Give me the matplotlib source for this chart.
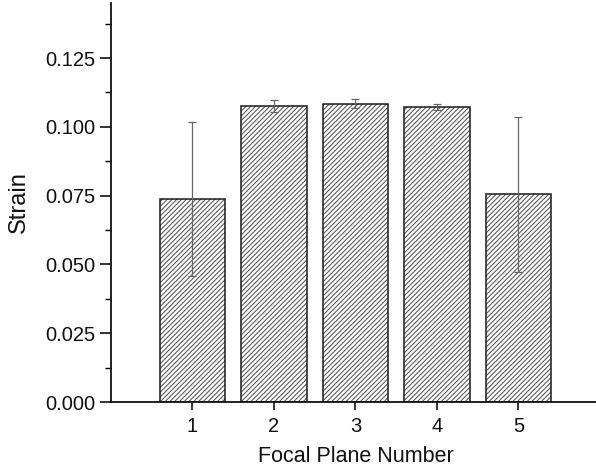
import matplotlib
matplotlib.use("Agg")
import matplotlib.pyplot as plt
from matplotlib.ticker import MultipleLocator, FormatStrFormatter

planes = [1, 2, 3, 4, 5]
strain = [0.0739, 0.1077, 0.1084, 0.1072, 0.0755]
strain_err = [0.0280, 0.0022, 0.0017, 0.0012, 0.0281]
xtick_labels = ["1", "2", "3", "4", "5"]

plt.rcParams['font.family'] = ['Liberation Sans', 'DejaVu Sans']
plt.rcParams['hatch.linewidth'] = 0.75

fig = plt.figure(figsize=(5.96, 4.67), dpi=100)
ax = fig.add_axes([111/596, 65/467, 489/596, 399/467])

# hatch layer (gray lines), then black outline
ax.bar(planes, strain, width=0.8, facecolor='white', edgecolor='#555555',
       linewidth=0, hatch='///////', zorder=2)
ax.bar(planes, strain, width=0.8, facecolor='none', edgecolor='#1a1a1a',
       linewidth=1.1, zorder=2.5)
ax.errorbar(planes, strain, yerr=strain_err, fmt='none', ecolor='#666666',
            elinewidth=0.9, capsize=3, capthick=0.9, zorder=3)

ax.set_xlim(0, 6)
ax.set_ylim(0, 0.145)
ax.set_xticks(planes)
ax.set_xticklabels(xtick_labels)
ax.yaxis.set_major_locator(MultipleLocator(0.025))
ax.yaxis.set_minor_locator(MultipleLocator(0.0125))
ax.yaxis.set_major_formatter(FormatStrFormatter('%.3f'))

for s in ['top', 'right']:
    ax.spines[s].set_visible(False)
for s in ['left', 'bottom']:
    ax.spines[s].set_linewidth(1.3)
    ax.spines[s].set_color('#111111')

ax.tick_params(axis='both', which='major', direction='out', width=1.2,
               labelsize=14.5, colors='#111111', pad=3)
ax.tick_params(axis='y', which='major', length=8)
ax.tick_params(axis='x', which='major', length=6, pad=5)
ax.tick_params(axis='y', which='minor', direction='out', length=4, width=1.0)

ax.set_xlabel('Focal Plane Number', fontsize=15.5, color='#111111', labelpad=7)
ax.set_ylabel('Strain', fontsize=17, color='#111111', labelpad=11)

fig.savefig('out.png', dpi=100)
